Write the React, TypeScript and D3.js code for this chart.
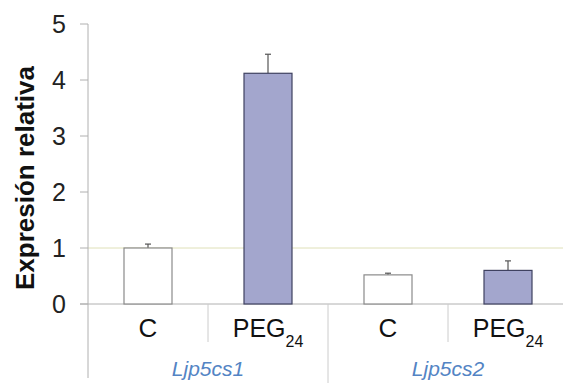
import React from "react";
import * as d3 from "d3";

const groups = ["Ljp5cs1", "Ljp5cs2"];
const treatments = ["C", "PEG"];
const values = [1.0, 4.12, 0.52, 0.6];
const errors = [0.07, 0.34, 0.03, 0.17];
const yTicks = [0, 1, 2, 3, 4, 5];

export default function App() {
  const W = 563, H = 383;
  const x0 = 88, x1 = 568;
  const y = d3.scaleLinear().domain([0, 5]).range([304, 24]);
  const cats = d3.range(values.length);
  const x = d3.scaleBand<number>().domain(cats).range([x0, x1]).paddingInner(0.6).paddingOuter(0.3);
  const bw = x.bandwidth();
  const step = x.step();
  const catX = (i: number) => (x(i) as number) + bw / 2;
  const axisCol = "#b0b0b0";
  return (
    <svg width={W} height={H} style={{ position: "absolute", left: 0, top: 0, background: "#fff" }}
      fontFamily="Liberation Sans, Arial, sans-serif">
      <line x1={x0} x2={W} y1={y(1)} y2={y(1)} stroke="#dfe0b8" strokeWidth={1} />
      <line x1={x0} x2={x0} y1={y(5)} y2={378} stroke={axisCol} />
      {yTicks.map((t) => (
        <g key={t}>
          <line x1={x0 - 8} x2={x0} y1={y(t)} y2={y(t)} stroke={axisCol} />
          <text x={66} y={y(t)} dy="0.36em" textAnchor="end" fontSize={25} fill="#222">{t}</text>
        </g>
      ))}
      <line x1={x0 - 8} x2={W} y1={y(0)} y2={y(0)} stroke={axisCol} />
      {cats.slice(1).map((i) => {
        const sx = catX(i) - step / 2;
        const isGroup = i % treatments.length === 0;
        return <line key={i} x1={sx} x2={sx} y1={y(0)} y2={isGroup ? H : 342} stroke="#cccccc" />;
      })}
      {cats.map((i) => {
        const peg = i % 2 === 1;
        const v = values[i];
        const cx = catX(i);
        return (
          <g key={i}>
            <line x1={cx} x2={cx} y1={y(v)} y2={y(v + errors[i])} stroke="#555" strokeWidth={1.2} />
            <line x1={cx - 3} x2={cx + 3} y1={y(v + errors[i])} y2={y(v + errors[i])} stroke="#555" strokeWidth={1.2} />
            <rect x={x(i)} y={y(v)} width={bw} height={y(0) - y(v)}
              fill={peg ? "#a3a6cd" : "#ffffff"} stroke={peg ? "#3f4160" : "#8a8a8a"} strokeWidth={1.2} />
          </g>
        );
      })}
      {cats.map((i) => {
        const peg = i % 2 === 1;
        return peg ? (
          <text key={i} x={catX(i)} y={337} textAnchor="middle" fontSize={25} fill="#111">
            PEG<tspan fontSize={16} dy={10}>24</tspan>
          </text>
        ) : (
          <text key={i} x={catX(i)} y={337} textAnchor="middle" fontSize={26} fill="#111">{treatments[0]}</text>
        );
      })}
      {groups.map((g, gi) => {
        const gx = (catX(gi * 2) + catX(gi * 2 + 1)) / 2;
        return (
          <text key={g} x={gx} y={376} textAnchor="middle" fontSize={21} fontStyle="italic" fill="#5384c4">{g}</text>
        );
      })}
      <text transform={`translate(34,${178}) rotate(-90)`} textAnchor="middle" fontSize={26} fontWeight="bold" fill="#111">
        Expresión relativa
      </text>
    </svg>
  );
}
